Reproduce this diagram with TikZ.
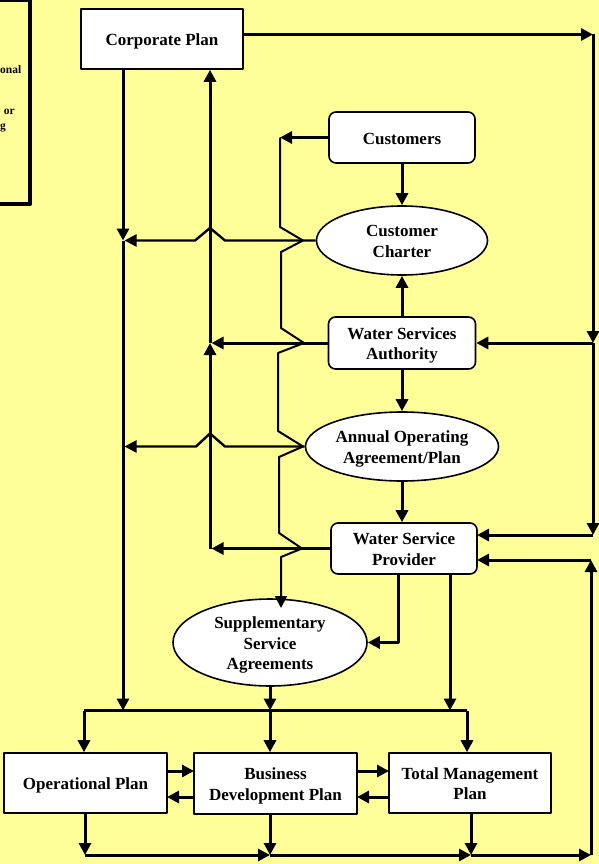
\documentclass[tikz,border=0pt]{standalone}
\usepackage{fontspec}
\setmainfont{Liberation Serif}
\usetikzlibrary{arrows.meta,shapes.geometric,calc}
\definecolor{bg}{RGB}{255,255,153}
\newcommand{\txdown}[1]{\raisebox{-2.5pt}[\height][\depth]{\begin{tabular}{@{}c@{}}#1\end{tabular}}}
\begin{document}
\begin{tikzpicture}[x=1pt,y=-1pt,line join=round,
  lbl/.style={font=\fontsize{17}{20.5}\selectfont\bfseries, align=center},
  sq/.style={lbl, draw, line width=1.6pt, fill=white, inner sep=0pt, rectangle},
  rsq/.style={sq, rounded corners=7pt},
  ell/.style={lbl, draw, line width=1.6pt, fill=white, ellipse, inner sep=0pt},
  heavy/.style={line width=3pt},
  mid/.style={line width=2.4pt},
  light/.style={line width=2pt},
  tip/.style={-{Triangle[length=12pt,width=12pt]}},
  frag/.style={font=\fontsize{11.5}{14}\selectfont\bfseries, inner sep=0pt, anchor=base east}
]
\useasboundingbox (0,0) rectangle (599,864);
\clip (0,0) rectangle (599,864);
\fill[bg] (0,0) rectangle (599,864);

% cut-off box on the left
\draw[line width=4pt] (-5,0.5) -- (30.3,0.5) -- (30.3,204) -- (-5,204);
\node[frag] (f1) at (21.5,74) {onal};
\node[frag] (f2) at (15,114) {or};
\node[frag] (f3) at (6,129) {g};

% nodes
\node[sq, minimum width=162pt, minimum height=60pt] (corp) at (162,39) {\txdown{Corporate Plan}};
\node[rsq, minimum width=146pt, minimum height=51pt] (cust) at (402,137.5) {\txdown{Customers}};
\node[ell, minimum width=171pt, minimum height=69pt] (cc) at (402,240.5) {\txdown{Customer\\Charter}};
\node[rsq, minimum width=147pt, minimum height=52pt] (wsa) at (402,343) {\txdown{Water Services\\Authority}};
\node[ell, minimum width=193pt, minimum height=69pt] (aoa) at (402,446.5) {\txdown{Annual Operating\\Agreement/Plan}};
\node[rsq, minimum width=146pt, minimum height=51pt] (wsp) at (404,548.5) {\txdown{Water Service\\Provider}};
\node[ell, minimum width=194pt, minimum height=69pt] (ssa) at (270,642.5) {\txdown{Supplementary\\Service\\Agreements}};
\node[sq, minimum width=163pt, minimum height=60pt] (op) at (85.5,783) {\txdown{Operational Plan}};
\node[sq, minimum width=163pt, minimum height=61pt] (bdp) at (275.5,783.5) {\txdown{Business\\Development Plan}};
\node[sq, minimum width=162pt, minimum height=60pt] (tmp) at (470,783) {\txdown{Total Management\\Plan}};

% coordinates
\coordinate (corpR) at (243,34.5);
\coordinate (tr) at (593,34.5);
\coordinate (rWSA) at (593,343);
\coordinate (rWSP) at (593,535);
\coordinate (wspA) at (477,535);
\coordinate (br) at (591,855);
\coordinate (rWSP2) at (591,560);
\coordinate (wspB) at (477,560);
\coordinate (b1) at (85,855);
\coordinate (b2) at (270,855);
\coordinate (b3) at (471,855);
\coordinate (u1) at (84,710.5);
\coordinate (u2) at (270,710.5);
\coordinate (u3) at (467,710.5);
\coordinate (cL) at (123,240.5);
\coordinate (cLb) at (123,710.5);
\coordinate (m1) at (210,548.5);
\coordinate (m2) at (210,343);
\coordinate (wspL) at (398,574);
\coordinate (wspLc) at (398,642.5);
\coordinate (wspR) at (450,574);
\coordinate (zz0) at (280,137.5);
\coordinate (zzE) at (281,608);
\coordinate (opR1) at (167,771);
\coordinate (bdpL1) at (194,771);
\coordinate (bdpL2) at (194,797);
\coordinate (opR2) at (167,797);
\coordinate (bdpR1) at (357,771);
\coordinate (tmpL1) at (389,771);
\coordinate (tmpL2) at (389,797);
\coordinate (bdpR2) at (357,797);

% top and right side
\draw[heavy,tip] (corpR) -- (tr);
\draw[heavy,tip] (tr) -- (rWSA);
\draw[heavy,tip] (rWSA) -- (rWSP);
\draw[heavy,tip] (rWSA) -- (wsa.east);
\draw[heavy,tip] (rWSP) -- (wspA);
\draw[heavy,tip] (br) -- (rWSP2);
\draw[heavy,tip] (rWSP2) -- (wspB);

% central column
\draw[heavy,tip] (cust.south) -- (cc.north);
\draw[heavy,tip] (wsa.north) -- (cc.south);
\draw[heavy,tip] (wsa.south) -- (aoa.north);
\draw[heavy,tip] (aoa.south) -- (aoa.south |- wsp.north);

% left verticals
\draw[heavy,tip] (cL |- corp.south) -- (cL);
\draw[heavy,tip] (cL) -- (cLb);
\draw[heavy,tip] (m1) -- (m2);
\draw[heavy,tip] (m2) -- (m2 |- corp.south);
\draw[heavy,tip] (wsa.west) -- ([xshift=1.5pt]m2);
\draw[heavy,tip] (wsp.west) -- ([xshift=1.5pt]m1);
\draw[mid,tip] (cc.west) -- (225,240.5) -- (210,228) -- (195,240.5) -- ([xshift=1.5pt]cL);
\draw[mid,tip] (aoa.west) -- (225,446.5) -- (210,433.5) -- (196,446.5) -- (124.5,446.5);

% zigzag bus
\draw[heavy,tip] (cust.west) -- (zz0);
\draw[light,tip] (zz0) -- (280,227) -- (303,240.5) -- (281,252) -- (281,328) -- (304,343)
  -- (278,353) -- (278,431) -- (303,446.5) -- (279,457) -- (279,533) -- (302,548.5)
  -- (281,557) -- (zzE);

% WSP outputs
\draw[heavy,tip] (wspL) -- (wspLc) -- (ssa.east);
\draw[heavy,tip] (wspR) -- (wspR |- u1);
\draw[heavy,tip] (ssa.south) -- (u2);

% distribution bus
\draw[heavy] (u1) -- (u3);
\draw[heavy,tip] (u1) -- (u1 |- op.north);
\draw[heavy,tip] (u2) -- (u2 |- bdp.north);
\draw[heavy,tip] (u3) -- (u3 |- tmp.north);

% between bottom boxes
\draw[heavy,tip] (opR1) -- (bdpL1);
\draw[heavy,tip] (bdpL2) -- (opR2);
\draw[heavy,tip] (bdpR1) -- (tmpL1);
\draw[heavy,tip] (tmpL2) -- (bdpR2);

% bottom collector
\draw[heavy,tip] (b1 |- op.south) -- (b1);
\draw[heavy,tip] (b2 |- bdp.south) -- (b2);
\draw[heavy,tip] (b3 |- tmp.south) -- (b3);
\draw[heavy,tip] (b1) -- (b2);
\draw[heavy,tip] (b2) -- (b3);
\draw[heavy,tip] (b3) -- (br);
\end{tikzpicture}
\end{document}
